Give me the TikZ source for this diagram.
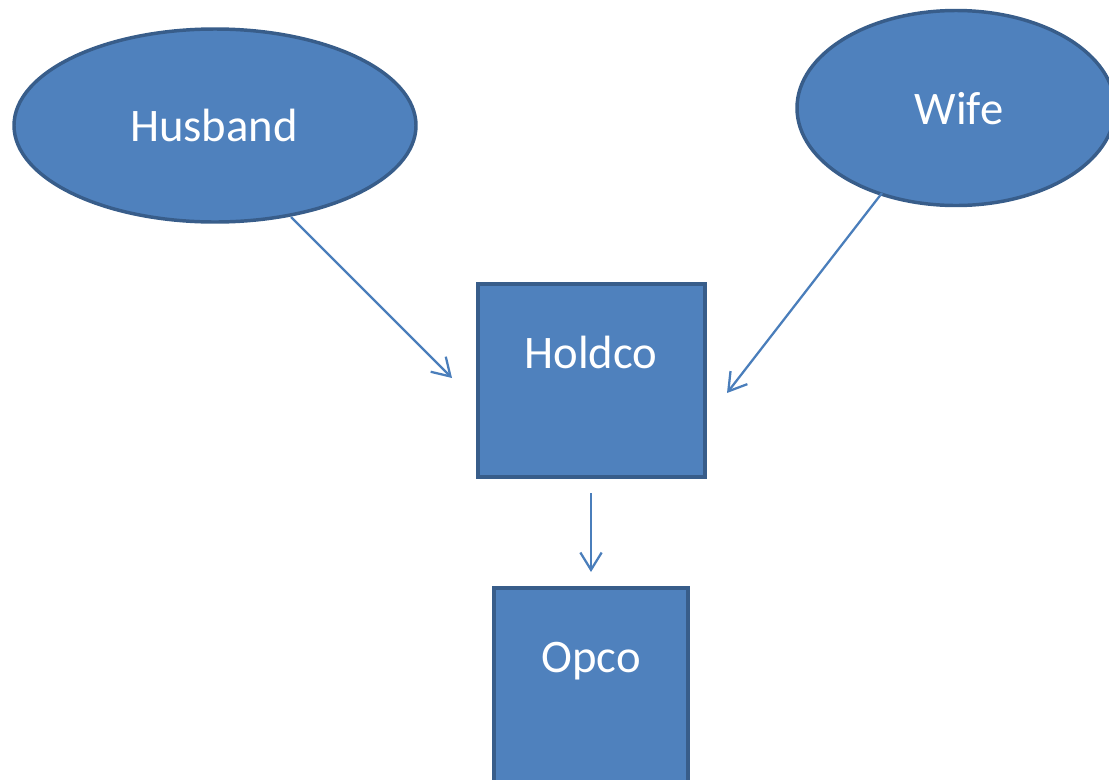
\documentclass[tikz,border=0pt]{standalone}
\usepackage{fontspec}
\setmainfont{Carlito}
\usetikzlibrary{shapes.geometric,arrows.meta}
\definecolor{fillblue}{HTML}{4F81BD}
\definecolor{edgeblue}{HTML}{385D8A}
\definecolor{arrowblue}{HTML}{4A7EBB}
\begin{document}
\begin{tikzpicture}[x=0.75pt,y=-0.75pt,
  shapebox/.style={draw=edgeblue,fill=fillblue,line width=2.6pt,inner sep=0pt},
  oval/.style={shapebox,ellipse},
  rectbox/.style={shapebox,rectangle},
  lbl/.style={text=white,font=\fontsize{35}{42}\selectfont,inner sep=0pt},
  conn/.style={draw=arrowblue,line width=1.7pt,-{Straight Barb[length=13pt,width=16pt,line width=1.7pt]}}]
\useasboundingbox (0,0) rectangle (1109,779);
\clip (0,0) rectangle (1109,779);
\node[oval,minimum width=402*0.75pt,minimum height=193*0.75pt] (husband) at (215,125.5) {};
\node[oval,minimum width=318*0.75pt,minimum height=195*0.75pt] (wife) at (956,108) {};
\node[rectbox,minimum width=227*0.75pt,minimum height=193*0.75pt] (holdco) at (591.5,380.5) {};
\node[rectbox,minimum width=194*0.75pt,minimum height=220*0.75pt] (opco) at (591,698) {};
\node[lbl] (husbandtxt) at (214,125) {Husband};
\node[lbl] (wifetxt) at (959,109) {Wife};
\node[lbl] (holdcotxt) at (591,352) {Holdco};
\node[lbl] (opcotxt) at (591,661) {Opco};
\coordinate (hs) at (291,217);
\coordinate (he) at (452,378);
\coordinate (ws) at (882,193);
\coordinate (we) at (727,393);
\coordinate (os) at (591,493);
\coordinate (oe) at (591,572);
\draw[conn] (hs) -- (he);
\draw[conn] (ws) -- (we);
\draw[conn] (os) -- (oe);
\end{tikzpicture}
\end{document}
